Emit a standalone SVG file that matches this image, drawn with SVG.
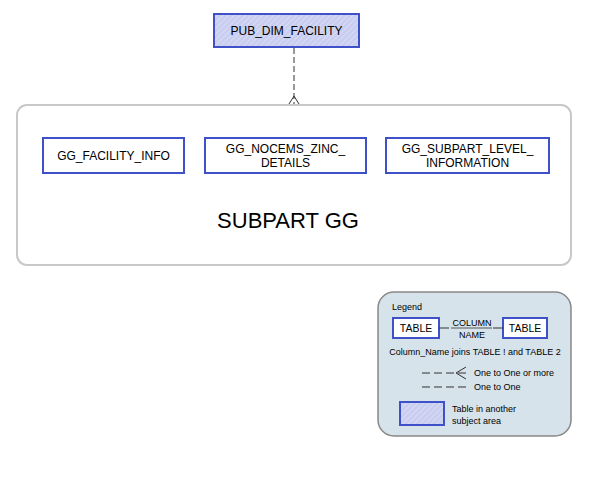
<svg xmlns="http://www.w3.org/2000/svg" width="591" height="501" viewBox="0 0 591 501">
<style>
.t{font-family:"Liberation Sans",Arial,sans-serif;fill:#000}
.tb{fill:#fff;stroke:#3f51c8;stroke-width:2}
.ext{fill:url(#hatch);stroke:#3f51c8;stroke-width:2}
.dash{stroke:#333;stroke-width:1;fill:none;stroke-dasharray:6,3}
.ldash{stroke:#333;stroke-width:1;fill:none;stroke-dasharray:8,4}
</style>
<defs>
<pattern id="hatch" patternUnits="userSpaceOnUse" width="4" height="4" patternTransform="rotate(45)">
<rect width="4" height="4" fill="#c9cdf0"/>
<line x1="0" y1="0" x2="0" y2="4" stroke="#dfe2f7" stroke-width="1.5"/>
</pattern>
</defs>
<rect width="591" height="501" fill="#fff"/>
<g id="subject-area">
<rect x="17" y="105" width="554" height="160" rx="10" fill="#fff" stroke="#c8c8c8" stroke-width="2"/>
<text class="t" x="288" y="228" font-size="22" text-anchor="middle">SUBPART GG</text>
</g>
<g id="connectors">
<line class="dash" x1="294" y1="48" x2="294" y2="104"/>
<path d="M289 104 L294 96 L299 104" fill="none" stroke="#333" stroke-width="1"/>
</g>
<g id="PUB_DIM_FACILITY">
<rect class="ext" x="214" y="14" width="145" height="33"/>
<text class="t" x="286.5" y="35" font-size="12" text-anchor="middle">PUB_DIM_FACILITY</text>
</g>
<g id="GG_FACILITY_INFO">
<rect class="tb" x="43" y="138" width="141" height="35"/>
<text class="t" x="113.5" y="160" font-size="12" text-anchor="middle">GG_FACILITY_INFO</text>
</g>
<g id="GG_NOCEMS_ZINC_DETAILS">
<rect class="tb" x="205" y="138" width="161" height="35"/>
<text class="t" x="285.5" y="153" font-size="12" text-anchor="middle">GG_NOCEMS_ZINC_</text>
<text class="t" x="285.5" y="167" font-size="12" text-anchor="middle">DETAILS</text>
</g>
<g id="GG_SUBPART_LEVEL_INFORMATION">
<rect class="tb" x="386" y="138" width="163" height="35"/>
<text class="t" x="467.5" y="153" font-size="12" text-anchor="middle">GG_SUBPART_LEVEL_</text>
<text class="t" x="467.5" y="167" font-size="12" text-anchor="middle">INFORMATION</text>
</g>
<g id="legend">
<rect x="378" y="292" width="193" height="144" rx="16" fill="#d6e3ea" stroke="#888" stroke-width="1.5"/>
<text class="t" x="392" y="310" font-size="9">Legend</text>
<rect class="tb" x="393" y="318" width="46" height="20" stroke-width="1.8"/>
<text class="t" x="416" y="332" font-size="10.5" text-anchor="middle">TABLE</text>
<rect class="tb" x="503" y="318" width="44" height="20" stroke-width="1.8"/>
<text class="t" x="525" y="332" font-size="10.5" text-anchor="middle">TABLE</text>
<line x1="439" y1="328" x2="449" y2="328" stroke="#333"/>
<line x1="493" y1="328" x2="503" y2="328" stroke="#333"/>
<text class="t" x="472" y="326" font-size="9" text-anchor="middle">COLUMN</text>
<line x1="451" y1="328" x2="492" y2="328" stroke="#333" stroke-width="0.8"/>
<text class="t" x="472" y="338" font-size="9" text-anchor="middle">NAME</text>
<text class="t" x="475" y="355" font-size="9" text-anchor="middle">Column_Name joins TABLE ! and TABLE 2</text>
<line class="ldash" x1="422" y1="373" x2="466" y2="373"/>
<path d="M466 367 L456 373 L466 379" fill="none" stroke="#333"/>
<text class="t" x="474" y="376" font-size="9">One to One or more</text>
<line class="ldash" x1="422" y1="387" x2="466" y2="387"/>
<text class="t" x="474" y="390" font-size="9">One to One</text>
<rect class="ext" x="400" y="402" width="44" height="23"/>
<text class="t" x="452" y="412" font-size="9">Table in another</text>
<text class="t" x="452" y="424" font-size="9">subject area</text>
</g>
</svg>
